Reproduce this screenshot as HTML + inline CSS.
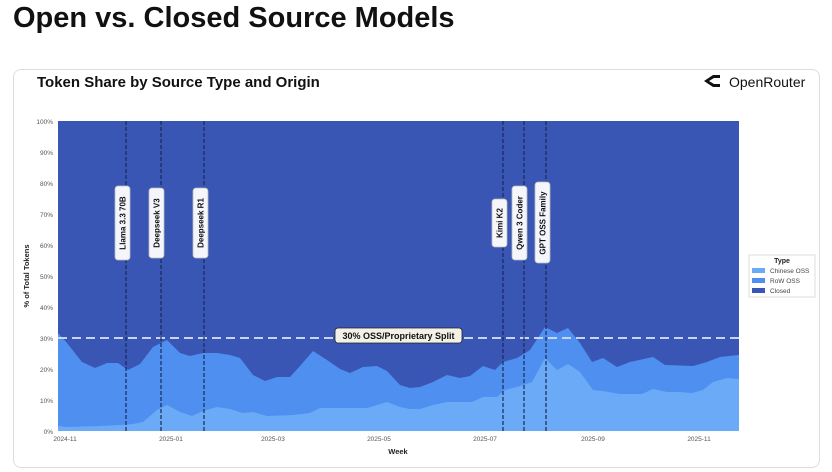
<!DOCTYPE html>
<html><head><meta charset="utf-8"><style>
body{margin:0;width:832px;height:472px;background:#fff;overflow:hidden;font-family:"Liberation Sans",sans-serif;}
h1{position:absolute;left:13px;top:2px;margin:0;font-size:29px;font-weight:bold;color:#111;}
.card{position:absolute;left:13px;top:69px;width:805px;height:397px;border:1px solid #ddd;border-radius:8px;}
</style></head><body>
<h1>Open vs. Closed Source Models</h1>
<div class="card"></div>
<svg width="832" height="472" style="position:absolute;left:0;top:0" font-family="Liberation Sans, DejaVu Sans, sans-serif">
<text x="37" y="87" font-size="15" font-weight="bold" fill="#111">Token Share by Source Type and Origin</text>
<path d="M704 81 L713 75 L720 75 L720 78 L714 78 L709 81 L714 84 L720 84 L720 87 L713 87 Z" fill="#111"/>
<text x="729" y="87" font-size="14" fill="#111">OpenRouter</text>
<rect x="58" y="121" width="681" height="310" fill="#3a56b5"/>
<polygon fill="#4f8ff0" points="58,431 58,333 67,343 82,362 95,368 107,363 118,363 128,370 140,364 153,347 167,340 180,353 190,356 203,353 217,353 230,355 240,358 253,375 265,381 277,377 290,377 300,366 313,351 327,360 340,369 350,373 363,367 377,366 387,371 400,385 410,388 420,387 433,382 447,375 460,378 470,376 483,366 495,370 503,362 517,358 530,350 545,327 557,333 568,328 580,343 592,362 603,358 617,367 630,362 653,357 665,365 693,366 707,362 720,357 738,355 739,355 739,431"/>
<polygon fill="#6aaaf7" points="58,431 58,426 67,427 100,426 120,425 133,424 143,422 157,410 167,405 180,412 192,416 203,411 217,407 230,409 243,413 253,412 267,416 293,415 310,413 320,408 367,408 377,405 387,402 400,407 410,409 420,409 433,405 447,402 472,402 483,397 497,397 505,390 520,386 532,382 545,358 557,370 568,364 580,372 593,390 603,391 620,394 642,394 653,389 667,392 680,392 692,393 703,390 713,382 727,378 739,379 739,431"/>
<line x1="58" y1="338" x2="739" y2="338" stroke="#c8d4f4" stroke-width="2" stroke-dasharray="9,5"/>
<g stroke="#1a2a55" stroke-width="1.2" stroke-dasharray="4,2">
<line x1="126" y1="121" x2="126" y2="431"/><line x1="161" y1="121" x2="161" y2="431"/><line x1="204" y1="121" x2="204" y2="431"/>
<line x1="503" y1="121" x2="503" y2="431"/><line x1="524" y1="121" x2="524" y2="431"/><line x1="546" y1="121" x2="546" y2="431"/>
</g>
<g fill="#f4f6fb" stroke="#bbb" stroke-width="0.8">
<rect x="115" y="186" width="15" height="74" rx="3"/><rect x="149" y="188" width="15" height="70" rx="3"/><rect x="193" y="188" width="15" height="70" rx="3"/>
<rect x="492" y="199" width="15" height="48" rx="3"/><rect x="512" y="186" width="15" height="74" rx="3"/><rect x="535" y="182" width="15" height="81" rx="3"/>
<rect x="335" y="328" width="127" height="15" rx="3" fill="#f3f0e6" stroke="#222"/>
</g>
<g font-size="8" font-weight="bold" fill="#111" text-anchor="middle">
<text transform="translate(125.5,223) rotate(-90)">Llama 3.3 70B</text>
<text transform="translate(159.5,223) rotate(-90)">Deepseek V3</text>
<text transform="translate(203.5,223) rotate(-90)">Deepseek R1</text>
<text transform="translate(502.5,223) rotate(-90)">Kimi K2</text>
<text transform="translate(522.5,223) rotate(-90)">Qwen 3 Coder</text>
<text transform="translate(545.5,223) rotate(-90)">GPT OSS Family</text>
<text x="398.5" y="339" font-size="9">30% OSS/Proprietary Split</text>
</g>
<g font-size="6.5" fill="#555" text-anchor="end">
<text x="53" y="124">100%</text><text x="53" y="155">90%</text><text x="53" y="186">80%</text><text x="53" y="217">70%</text><text x="53" y="248">60%</text><text x="53" y="279">50%</text><text x="53" y="310">40%</text><text x="53" y="341">30%</text><text x="53" y="372">20%</text><text x="53" y="403">10%</text><text x="53" y="434">0%</text>
</g>
<g font-size="6.5" fill="#555" text-anchor="middle">
<text x="65" y="441">2024-11</text><text x="171" y="441">2025-01</text><text x="273" y="441">2025-03</text><text x="379" y="441">2025-05</text><text x="485" y="441">2025-07</text><text x="593" y="441">2025-09</text><text x="699" y="441">2025-11</text>
</g>
<text x="398" y="454" font-size="7.5" font-weight="bold" fill="#222" text-anchor="middle">Week</text>
<text transform="translate(29,276) rotate(-90)" font-size="7.5" font-weight="bold" fill="#222" text-anchor="middle">% of Total Tokens</text>
<rect x="749" y="255" width="66" height="42" fill="#fff" stroke="#ddd"/>
<text x="782" y="263" font-size="7" font-weight="bold" fill="#222" text-anchor="middle">Type</text>
<rect x="752" y="268" width="13" height="5" fill="#6aaaf7"/><text x="770" y="273" font-size="6.5" fill="#444">Chinese OSS</text>
<rect x="752" y="278" width="13" height="5" fill="#4f8ff0"/><text x="770" y="283" font-size="6.5" fill="#444">RoW OSS</text>
<rect x="752" y="288" width="13" height="5" fill="#3a56b5"/><text x="770" y="293" font-size="6.5" fill="#444">Closed</text>
</svg>
</body></html>
